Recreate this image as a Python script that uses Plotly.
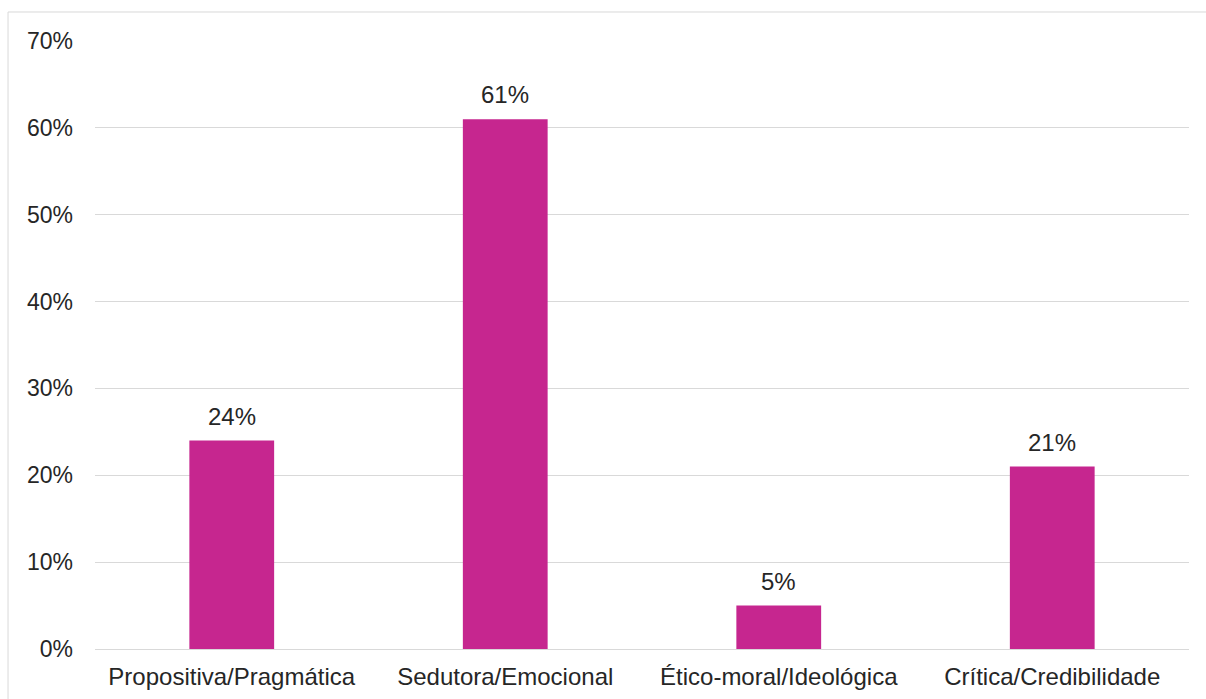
import plotly.graph_objects as go

categories = ["Propositiva/Pragmática", "Sedutora/Emocional", "Ético-moral/Ideológica", "Crítica/Credibilidade"]
shares = [24, 61, 5, 21]
y_ticks = [0, 10, 20, 30, 40, 50, 60, 70]
y_tick_labels = [f"{t}%" for t in y_ticks]

BAR_COLOR = "#C6268F"
TEXT_COLOR = "#262626"
GRID_COLOR = "#D9D9D9"
FONT = "Liberation Sans, Arial, sans-serif"

fig = go.Figure(
    go.Bar(
        x=categories,
        y=shares,
        marker=dict(color=BAR_COLOR, line=dict(width=0)),
        width=0.31,
        hovertemplate="%{x}: %{y}%<extra></extra>",
    )
)

# value labels sit a little above each bar
for cat, val in zip(categories, shares):
    fig.add_annotation(
        x=cat,
        y=val,
        text=f"{val}%",
        showarrow=False,
        yanchor="bottom",
        yshift=9,
        font=dict(family=FONT, size=24, color=TEXT_COLOR),
    )

fig.update_layout(
    width=1206,
    height=699,
    margin=dict(l=95, r=17, t=41, b=50),
    paper_bgcolor="white",
    plot_bgcolor="white",
    showlegend=False,
    font=dict(family=FONT, size=24, color=TEXT_COLOR),
    xaxis=dict(
        showgrid=False,
        showline=True,
        linecolor=GRID_COLOR,
        linewidth=1,
        ticks="",
        tickfont=dict(size=24, color=TEXT_COLOR),
        ticklabelstandoff=6,
        automargin=False,
    ),
    yaxis=dict(
        range=[0, 70],
        tickvals=y_ticks,
        ticktext=y_tick_labels,
        showgrid=True,
        gridcolor=GRID_COLOR,
        gridwidth=1,
        zeroline=False,
        showline=False,
        ticks="",
        tickfont=dict(size=23, color=TEXT_COLOR),
        ticklabelstandoff=21,
        automargin=False,
    ),
    shapes=[
        dict(
            type="rect",
            xref="paper",
            yref="paper",
            x0=-0.0795,
            x1=1.5,
            y0=-0.5,
            y1=1.0477,
            line=dict(color=GRID_COLOR, width=1),
            fillcolor="rgba(0,0,0,0)",
            layer="below",
        )
    ],
)

fig.write_html("out.html")
